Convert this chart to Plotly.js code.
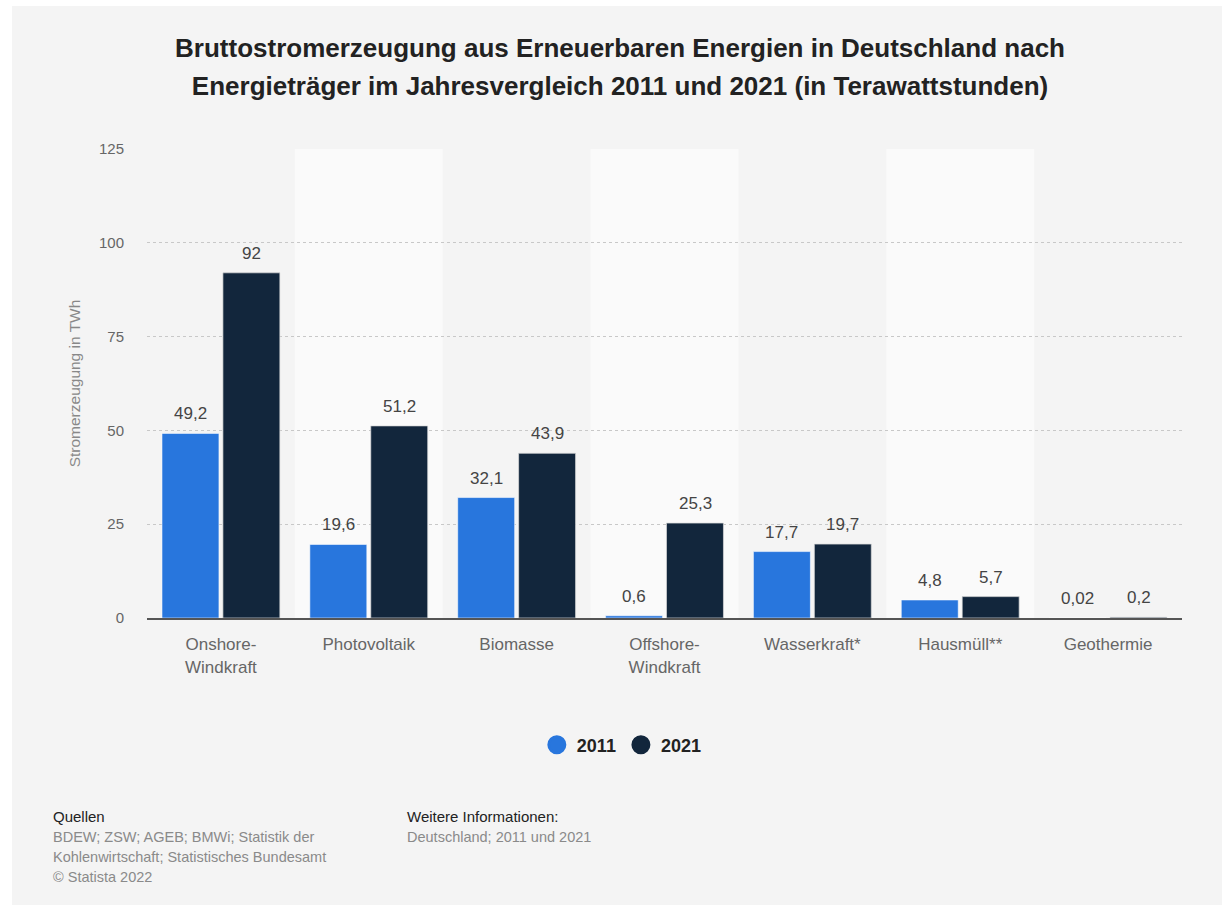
<!DOCTYPE html>
<html>
<head>
<meta charset="utf-8">
<script src="https://cdn.plot.ly/plotly-3.0.1.min.js"></script>
<style>
  html, body { margin: 0; padding: 0; background: #ffffff; width: 1222px; height: 905px; overflow: hidden; }
  #chart { position: absolute; left: 12px; top: 6px; width: 1210px; height: 899px; }
</style>
</head>
<body>
<div id="chart"></div>
<script>
// ---- data ----
const categories = ["Onshore-<br>Windkraft", "Photovoltaik", "Biomasse", "Offshore-<br>Windkraft", "Wasserkraft*", "Hausmüll**", "Geothermie"];
const values2011 = [49.2, 19.6, 32.1, 0.6, 17.7, 4.8, 0.02];
const values2021 = [92, 51.2, 43.9, 25.3, 19.7, 5.7, 0.2];
const seriesNames = ["2011", "2021"];
const yTicks = [0, 25, 50, 75, 100, 125];

const titleLine1 = "Bruttostromerzeugung aus Erneuerbaren Energien in Deutschland nach";
const titleLine2 = "Energieträger im Jahresvergleich 2011 und 2021 (in Terawattstunden)";
const yTitle = "Stromerzeugung in TWh";
const sourceHead = "Quellen";
const sourceLines = ["BDEW; ZSW; AGEB; BMWi; Statistik der", "Kohlenwirtschaft; Statistisches Bundesamt", "© Statista 2022"];
const infoHead = "Weitere Informationen:";
const infoLines = ["Deutschland; 2011 und 2021"];

// ---- styles ----
const COL_2011 = "#2876dd";
const COL_2021 = "#12263c";
const FONT = "Liberation Sans, Arial, sans-serif";

const fmt = v => String(v).replace(".", ",");

const traces = [
  {
    type: "bar", name: seriesNames[0], x: categories, y: values2011,
    marker: { color: COL_2011, line: { color: "rgba(255,255,255,0.55)", width: 1 } },
    showlegend: false, hoverinfo: "skip"
  },
  {
    type: "bar", name: seriesNames[1], x: categories, y: values2021,
    marker: { color: COL_2021, line: { color: "rgba(220,220,220,0.7)", width: 1 } },
    showlegend: false, hoverinfo: "skip"
  },
  {
    type: "scatter", mode: "markers", name: seriesNames[0], x: [categories[0]], y: [null],
    marker: { color: COL_2011, size: 16, line: { color: COL_2011, width: 3 } },
    showlegend: true, hoverinfo: "skip"
  },
  {
    type: "scatter", mode: "markers", name: seriesNames[1], x: [categories[0]], y: [null],
    marker: { color: COL_2021, size: 16, line: { color: COL_2021, width: 3 } },
    showlegend: true, hoverinfo: "skip"
  }
];

// value labels above bars
const annotations = [];
const seriesVals = [values2011, values2021];
const shifts = [-30.5, 30.5];
seriesVals.forEach((vals, s) => {
  vals.forEach((v, i) => {
    annotations.push({
      x: categories[i], y: v, xref: "x", yref: "y",
      text: fmt(v), showarrow: false, xanchor: "center", yanchor: "bottom",
      xshift: shifts[s], yshift: 8,
      font: { family: FONT, size: 17, color: "#444444" }
    });
  });
});

// footer (positions in paper coords relative to plot area)
function footer(text, x, y, color, size) {
  annotations.push({
    text: text, xref: "paper", yref: "paper", x: x, y: y,
    xanchor: "left", yanchor: "middle", showarrow: false,
    font: { family: FONT, size: size, color: color }
  });
}
footer(sourceHead, -0.0928, -0.4243, "#222222", 15);
sourceLines.forEach((t, k) => footer(t, -0.0928, -0.467 - k * 0.0426, "#8a8a8a", 14.5));
footer(infoHead, 0.2492, -0.4243, "#222222", 15);
infoLines.forEach((t, k) => footer(t, 0.2492, -0.467 - k * 0.0426, "#8a8a8a", 14.5));

// alternating background bands
const shapes = [];
categories.forEach((c, i) => {
  if (i % 2 === 1) {
    shapes.push({
      type: "rect", xref: "x", yref: "paper", x0: i - 0.5, x1: i + 0.5, y0: 0, y1: 1,
      fillcolor: "#fafafa", line: { width: 0 }, layer: "below"
    });
  }
});

const layout = {
  width: 1210, height: 899,
  paper_bgcolor: "#f4f4f4", plot_bgcolor: "#f4f4f4",
  margin: { l: 135, r: 40, t: 143, b: 287 },
  font: { family: FONT },
  title: {
    text: "<span style='font-size:26px'>" + titleLine1 + "</span><br><span style='font-size:26px'>" + titleLine2 + "</span>",
    font: { family: FONT, size: 29, color: "#222222", weight: "bold" },
    xref: "container", x: 0.5025, xanchor: "center",
    yref: "container", y: 0.943, yanchor: "top"
  },
  barmode: "group", bargap: 0.176, bargroupgap: 0.065,
  xaxis: {
    type: "category", showgrid: false, zeroline: false,
    showline: true, linecolor: "#555555", linewidth: 2,
    ticks: "", tickfont: { family: FONT, size: 17, color: "#666666" },
    ticklabelstandoff: 10, fixedrange: true
  },
  yaxis: {
    range: [0, 125], tickvals: yTicks, ticktext: yTicks.map(String),
    showgrid: true, gridcolor: "#c8c8c8", gridwidth: 1, griddash: "dot",
    zeroline: false, showline: false, ticks: "",
    tickfont: { family: FONT, size: 15, color: "#666666" },
    ticklabelstandoff: 22,
    title: { text: yTitle, font: { family: FONT, size: 15.5, color: "#888888" }, standoff: 14 },
    fixedrange: true
  },
  legend: {
    orientation: "h", xref: "container", yref: "container",
    x: 0.504, xanchor: "center", y: 0.178, yanchor: "middle",
    font: { family: FONT, size: 18, color: "#222222", weight: "bold" },
    bgcolor: "rgba(0,0,0,0)", itemclick: false, itemdoubleclick: false
  },
  shapes: shapes,
  annotations: annotations,
  hovermode: false,
  showlegend: true
};

Plotly.newPlot("chart", traces, layout, { displayModeBar: false, staticPlot: true });
</script>
</body>
</html>
